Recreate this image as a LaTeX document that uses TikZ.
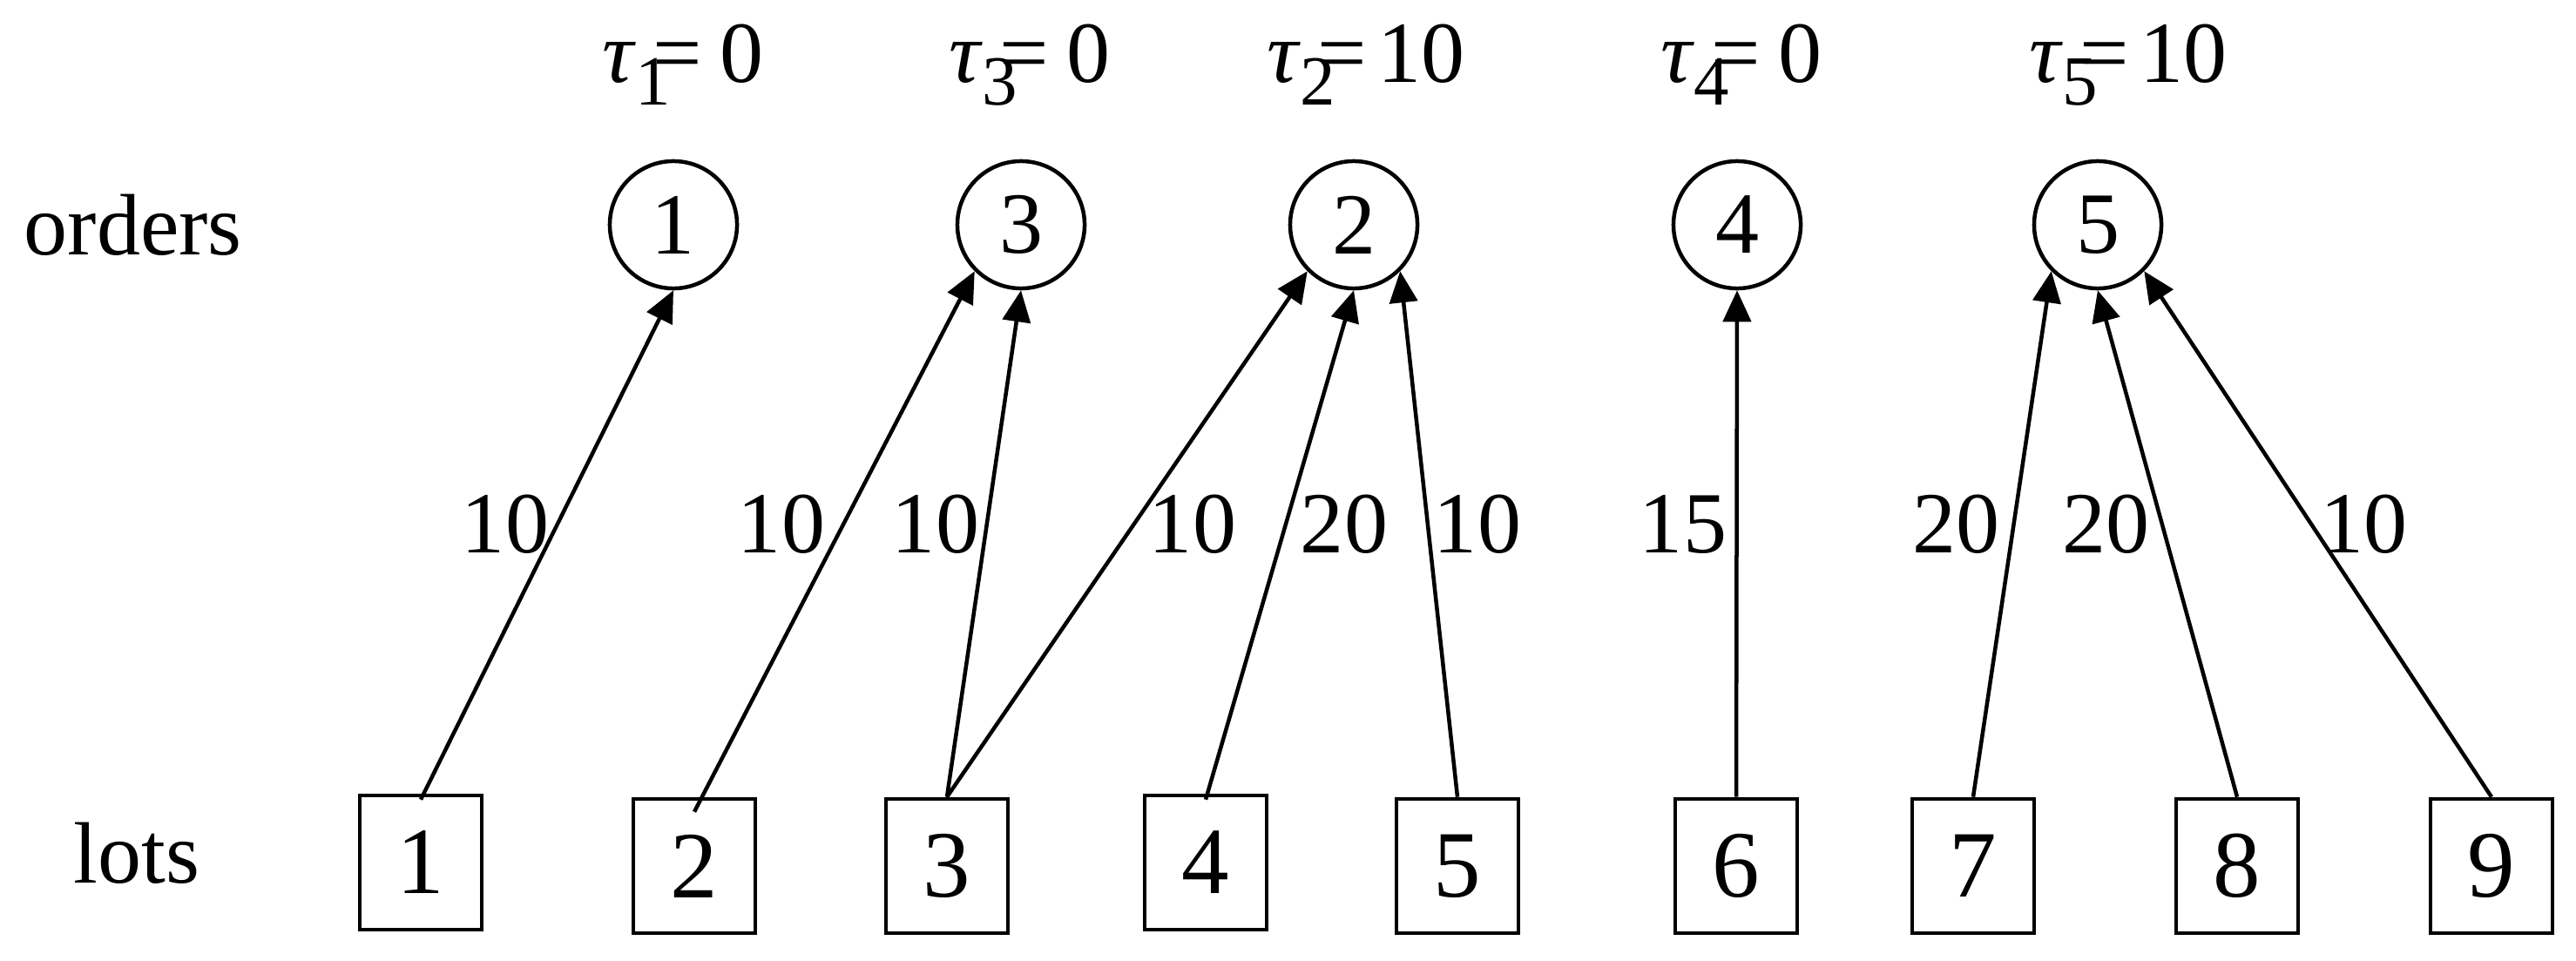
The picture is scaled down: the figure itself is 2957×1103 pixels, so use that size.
\documentclass[tikz,border=0pt]{standalone}
\usepackage{fontspec}
\setmainfont{Liberation Serif}
\usetikzlibrary{arrows.meta}
\newcommand{\taulab}[3]{{\itshape τ}\kern0.02cm\raisebox{-0.26cm}{\fontsize{23}{23}\selectfont #1}\kern-0.2cm=\kern#3 #2}
\begin{document}
\begin{tikzpicture}[x=0.01cm,y=-0.01cm,
  order/.style={circle,draw,line width=0.045cm,minimum size=1.46cm,inner sep=0pt,font=\fontsize{28.45}{34}\selectfont},
  lot/.style={rectangle,draw,line width=0.045cm,minimum width=1.40cm,minimum height=1.54cm,inner sep=0pt,font=\fontsize{31}{37}\selectfont},
  wlab/.style={inner sep=0pt,font=\fontsize{28.45}{34}\selectfont},
  tlab/.style={inner sep=0pt,anchor=base west,font=\fontsize{28.45}{34}\selectfont},
  flow/.style={line width=0.045cm,-{Triangle[length=0.36cm,width=0.32cm]}}]
\useasboundingbox (0,0) rectangle (2957,1103);
% row titles
\node[tlab] (tord) at (27,292) {orders};
\node[tlab] (tlot) at (84,1013) {lots};
% tau labels
\node[tlab] (tau1) at (691,94) {\taulab{1}{0}{0.2cm}};
\node[tlab] (tau3) at (1089,94) {\taulab{3}{0}{0.2cm}};
\node[tlab] (tau2) at (1454,94) {\taulab{2}{10}{0.12cm}};
\node[tlab] (tau4) at (1906,94) {\taulab{4}{0}{0.2cm}};
\node[tlab] (tau5) at (2329,94) {\taulab{5}{10}{0.12cm}};
% orders
\node[order] (o1) at (773,258) {\raisebox{-0.04cm}{1}};
\node[order] (o3) at (1172,258) {\raisebox{-0.04cm}{3}};
\node[order] (o2) at (1554,258) {\raisebox{-0.04cm}{2}};
\node[order] (o4) at (1994,258) {\raisebox{-0.04cm}{4}};
\node[order] (o5) at (2408,258) {\raisebox{-0.04cm}{5}};
% lots
\node[lot] (l1) at (483,990) {1};
\node[lot] (l2) at (797,994) {2};
\node[lot] (l3) at (1087,994) {3};
\node[lot] (l4) at (1384,990) {4};
\node[lot] (l5) at (1673,994) {5};
\node[lot] (l6) at (1993,994) {6};
\node[lot] (l7) at (2265,994) {7};
\node[lot] (l8) at (2568,994) {8};
\node[lot] (l9) at (2860,994) {9};
% connectors
\draw[flow] ([yshift=-0.07cm]l1.north) -- (o1.south);
\draw[flow] ([yshift=-0.17cm]l2.north) -- (o3.south west);
\draw[flow] (l3.north) -- (o3.south);
\draw[flow] (l3.north) -- (o2.south west);
\draw[flow] ([yshift=-0.07cm]l4.north) -- (o2.south);
\draw[flow] (l5.north) -- (o2.south east);
\draw[flow] (l6.north) -- (o4.south);
\draw[flow] (l7.north) -- (o5.south west);
\draw[flow] (l8.north) -- (o5.south);
\draw[flow] (l9.north) -- (o5.south east);
% quantities
\node[wlab] (q1) at (580,602) {10};
\node[wlab] (q2) at (897,602) {10};
\node[wlab] (q3) at (1074,602) {10};
\node[wlab] (q4) at (1369,602) {10};
\node[wlab] (q5) at (1543,602) {20};
\node[wlab] (q6) at (1696,602) {10};
\node[wlab] (q7) at (1932,602) {15};
\node[wlab] (q8) at (2245,602) {20};
\node[wlab] (q9) at (2417,602) {20};
\node[wlab] (q10) at (2713,602) {10};
\end{tikzpicture}
\end{document}
